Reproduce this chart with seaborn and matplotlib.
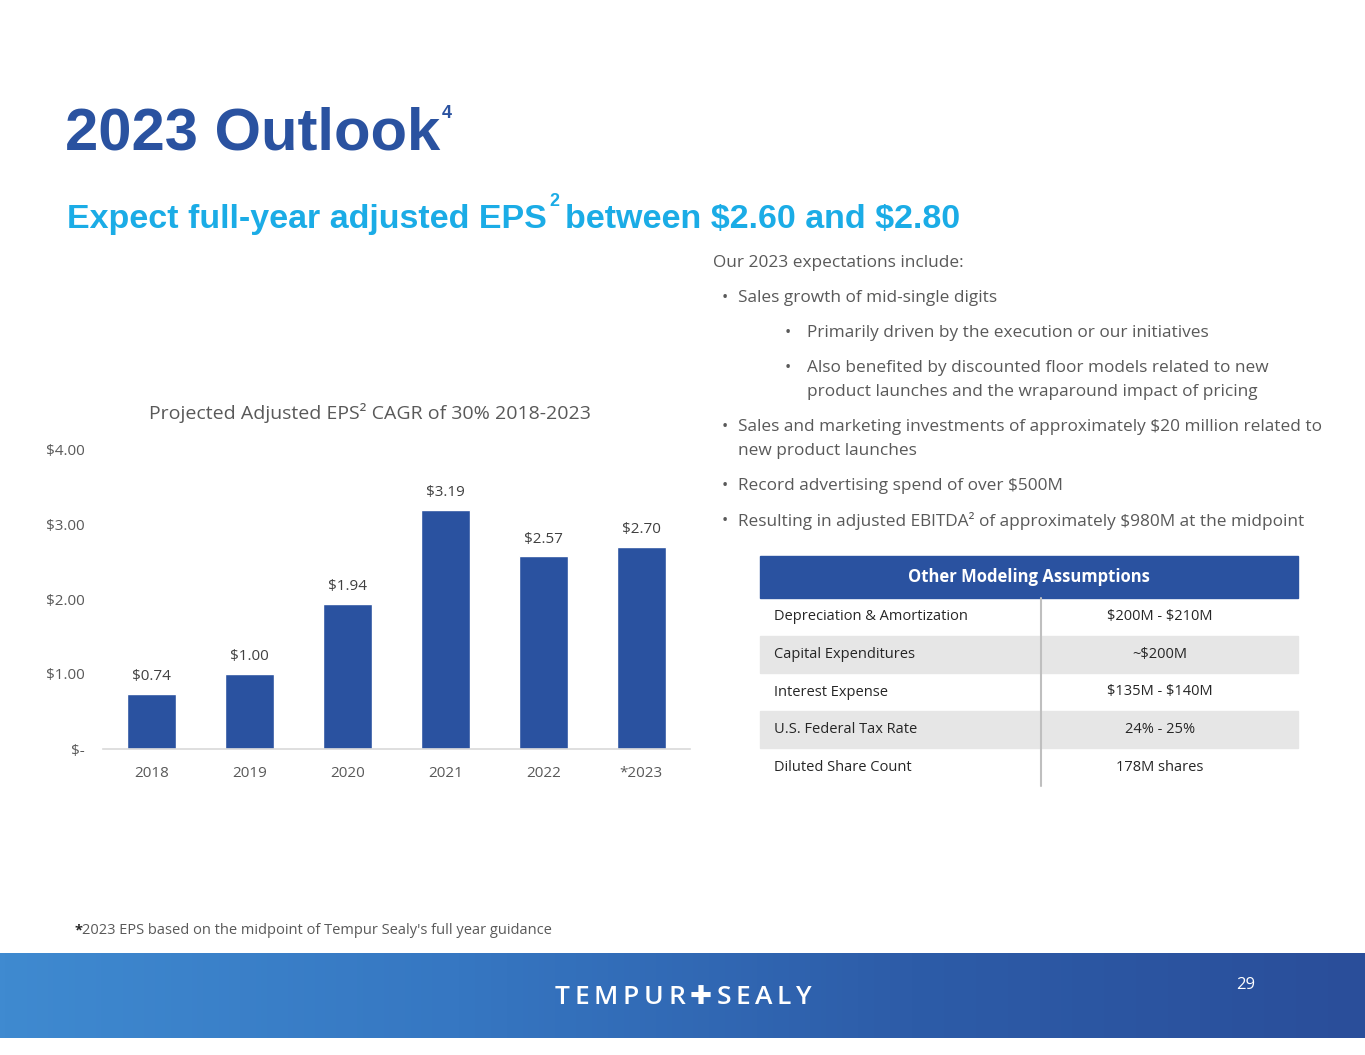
import numpy as np
import matplotlib
matplotlib.use("Agg")
import matplotlib.pyplot as plt
import seaborn as sns
from matplotlib.colors import LinearSegmentedColormap
from matplotlib.patches import Rectangle

# chart data
YEARS = ["2018", "2019", "2020", "2021", "2022", "*2023"]
EPS = [0.74, 1.00, 1.94, 3.19, 2.57, 2.70]
Y_TICKS = [0, 1, 2, 3, 4]
Y_TICK_LABELS = ["$-", "$1.00", "$2.00", "$3.00", "$4.00"]

# slide text
INTRO = "Our 2023 expectations include:"
BULLETS = [
    (0, ["Sales growth of mid-single digits"]),
    (1, ["Primarily driven by the execution or our initiatives"]),
    (1, ["Also benefited by discounted floor models related to new",
         "product launches and the wraparound impact of pricing"]),
    (0, ["Sales and marketing investments of approximately $20 million related to",
         "new product launches"]),
    (0, ["Record advertising spend of over $500M"]),
    (0, ["Resulting in adjusted EBITDA\u00b2 of approximately $980M at the midpoint"]),
]
TABLE_HEADER = "Other Modeling Assumptions"
TABLE_ITEMS = ["Depreciation & Amortization", "Capital Expenditures", "Interest Expense",
               "U.S. Federal Tax Rate", "Diluted Share Count"]
TABLE_VALUES = ["$200M - $210M", "~$200M", "$135M - $140M", "24% - 25%", "178M shares"]
LOGO = "TEMPUR\u271aSEALY"

W, H = 1365, 1055
BLUE = "#2A52A0"
CYAN = "#1BACE6"
GRAY = "#595959"
DARK = "#262626"

sns.set_theme(style="white")
plt.rcParams["font.family"] = ["Open Sans", "DejaVu Sans"]
plt.rcParams["text.parse_math"] = False

fig = plt.figure(figsize=(W / 100, H / 100), dpi=100)
bg = fig.add_axes([0, 0, 1, 1])
bg.set_xlim(0, W)
bg.set_ylim(H, 0)
bg.axis("off")


def right_edge(txt):
    fig.canvas.draw()
    return txt.get_window_extent().x1


# footer band
band = LinearSegmentedColormap.from_list("band", ["#3F8AD0", "#3677C2", "#2D5CA8", "#2A4E9A"])
grad = np.linspace(0, 1, 256).reshape(1, -1)
bg.imshow(grad, extent=(0, W, 1038, 953), aspect="auto", cmap=band, zorder=0)
bg.set_xlim(0, W)
bg.set_ylim(H, 0)

# logo, spaced out letter by letter
x = 555
for ch in LOGO:
    c = bg.text(x, 998, ch, ha="left", va="center", color="white", fontsize=19,
                fontweight="semibold", family=["Open Sans", "DejaVu Sans"])
    x = right_edge(c) + 4.6
bg.text(1246, 985, "29", ha="center", va="center", color="white", fontsize=12)

# titles with raised footnote markers
t = bg.text(65, 150, "2023 Outlook", fontsize=43, fontweight="bold", color=BLUE,
            family="Liberation Sans", va="baseline")
bg.text(right_edge(t) + 2, 118, "4", fontsize=13, fontweight="bold", color=BLUE,
        family="Liberation Sans", va="baseline")

s1 = bg.text(67, 228, "Expect full-year adjusted EPS", fontsize=24.5, fontweight="bold",
             color=CYAN, family="Liberation Sans", va="baseline")
s2 = bg.text(right_edge(s1) + 2, 206, "2", fontsize=13, fontweight="bold", color=CYAN,
             family="Liberation Sans", va="baseline")
bg.text(right_edge(s2) + 6, 228, "between $2.60 and $2.80", fontsize=24.5, fontweight="bold",
        color=CYAN, family="Liberation Sans", va="baseline")

# bullet text
bg.text(713, 263, INTRO, fontsize=12.4, color=GRAY, va="center")
y = 298
for level, lines in BULLETS:
    bx, tx = (722, 738) if level == 0 else (785, 807)
    bg.text(bx, y, "\u2022", fontsize=12, color=GRAY, va="center")
    for i, line in enumerate(lines):
        bg.text(tx, y + i * 24, line, fontsize=12.4, color=GRAY, va="center")
    y += 24 * (len(lines) - 1) + 35

# table
tx0, tx1, tdiv = 760, 1298, 1041
bg.add_patch(Rectangle((tx0, 556), tx1 - tx0, 42, color=BLUE, zorder=1))
bg.text((tx0 + tx1) / 2, 577, TABLE_HEADER, ha="center", va="center", color="white",
        fontsize=12, fontweight="bold")
row_h = 37.6
for i, (item, val) in enumerate(zip(TABLE_ITEMS, TABLE_VALUES)):
    top = 598 + i * row_h
    if i % 2 == 1:
        bg.add_patch(Rectangle((tx0, top), tx1 - tx0, row_h, color="#E6E6E6", zorder=1))
    bg.text(774, top + row_h / 2, item, va="center", fontsize=10.5, color=DARK, zorder=3)
    bg.text(1160, top + row_h / 2, val, va="center", ha="center", fontsize=10.5,
            color=DARK, zorder=3)
bg.plot([tdiv, tdiv], [598, 598 + 5 * row_h], color="#BFBFBF", lw=1.5, zorder=2)

# footnote
bg.text(75, 930, "*", fontsize=10.5, color=DARK, fontweight="bold", va="center")
bg.text(82, 930, "2023 EPS based on the midpoint of Tempur Sealy's full year guidance",
        fontsize=10.5, color=GRAY, va="center")

# bar chart
bg.text(370, 413, "Projected Adjusted EPS\u00b2 CAGR of 30% 2018-2023", ha="center",
        va="center", fontsize=14, color=GRAY)
ax = fig.add_axes([103 / W, (H - 749) / H, 587 / W, 300 / H])
ax.patch.set_alpha(0)
sns.barplot(x=YEARS, y=EPS, color=BLUE, width=0.5, saturation=1, ax=ax)
ax.set_xlim(-0.5, 5.5)
ax.set_ylim(0, 4)
ax.set_yticks(Y_TICKS)
ax.set_yticklabels(Y_TICK_LABELS)
ax.bar_label(ax.containers[0], labels=[f"${v:.2f}" for v in EPS], padding=7,
             fontsize=11, color="#404040")
for side in ["top", "right", "left"]:
    ax.spines[side].set_visible(False)
ax.spines["bottom"].set_color("#D9D9D9")
ax.spines["bottom"].set_linewidth(1.2)
ax.tick_params(axis="y", length=0, pad=13, labelsize=11, labelcolor=GRAY)
ax.tick_params(axis="x", length=0, pad=12, labelsize=11, labelcolor=GRAY)
ax.set_xlabel("")
ax.set_ylabel("")
ax.grid(False)

fig.savefig("out.png", dpi=100)
